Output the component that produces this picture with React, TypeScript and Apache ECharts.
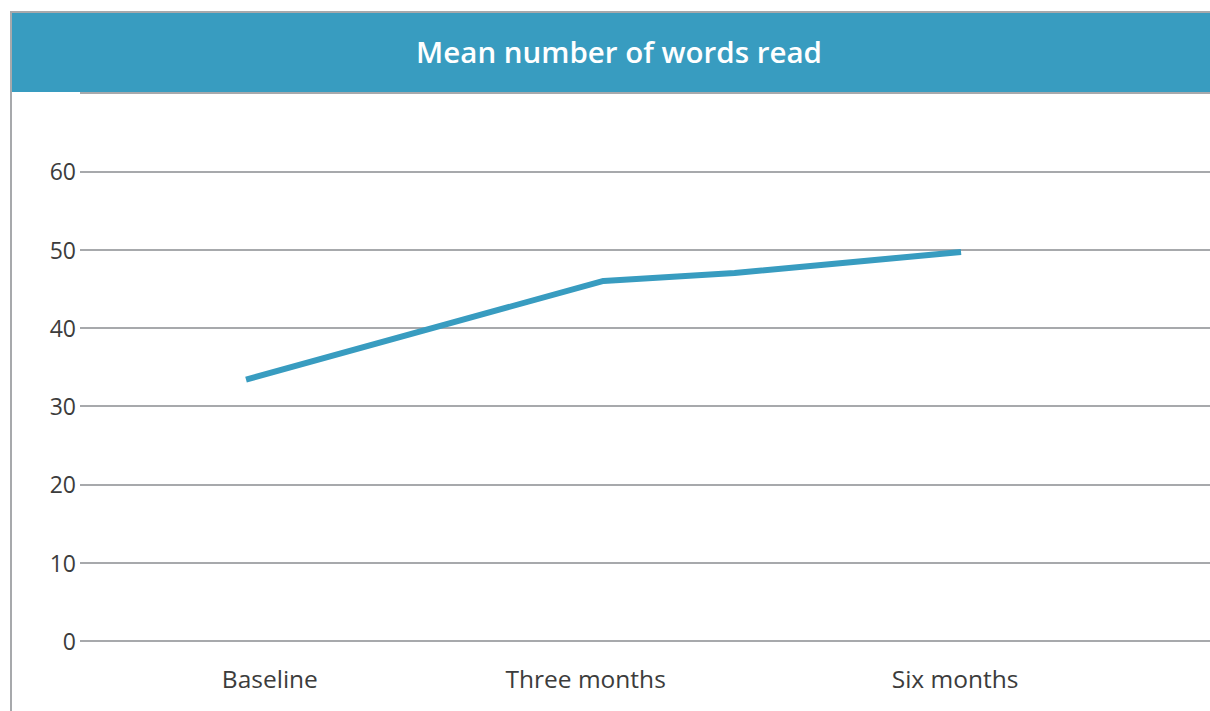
import React, { useEffect, useRef } from "react";
import * as echarts from "echarts";

const titleText = "Mean number of words read";
const monthsFromBaseline = [0, 3, 4.1, 6];
const meanWordsRead = [33.4, 46.0, 47.0, 49.7];
const xTickMonths = [0.2, 2.85, 5.95];
const xTickLabels = ["Baseline", "Three months", "Six months"];
const yTicks = [0, 10, 20, 30, 40, 50, 60, 70];

const BLUE = "#389cc0";
const GRAY = "#a7a9ac";
const TEXT = "#3c3c3c";
const FONT = "'Open Sans', Roboto, 'DejaVu Sans', sans-serif";

export default function App() {
  const ref = useRef<HTMLDivElement>(null);
  useEffect(() => {
    if (!ref.current) return;
    const chart = echarts.init(ref.current, null, { renderer: "svg" });
    chart.setOption({
      animation: false,
      backgroundColor: "#ffffff",
      grid: { left: 80, right: 0, top: 93, bottom: 70, containLabel: false },
      xAxis: {
        type: "value",
        min: -1.393,
        max: 8.089,
        axisLine: { show: false },
        axisTick: { show: false },
        splitLine: { show: false },
        axisLabel: {
          customValues: xTickMonths,
          formatter: (v: number) => {
            const i = xTickMonths.findIndex((m) => Math.abs(m - v) < 1e-6);
            return i >= 0 ? xTickLabels[i] : "";
          },
          color: TEXT,
          fontSize: 24.5,
          fontFamily: FONT,
          margin: 25,
        },
      },
      yAxis: {
        type: "value",
        min: yTicks[0],
        max: yTicks[yTicks.length - 1],
        interval: 10,
        axisLine: { show: false },
        axisTick: { show: false },
        splitLine: { show: true, lineStyle: { color: GRAY, width: 2 } },
        axisLabel: {
          formatter: (v: number) => (v === 70 ? "" : String(v)),
          color: TEXT,
          fontSize: 23,
          fontFamily: FONT,
          margin: 4,
        },
      },
      series: [
        {
          type: "line",
          data: monthsFromBaseline.map((m, i) => [m, meanWordsRead[i]]),
          symbol: "none",
          lineStyle: { color: BLUE, width: 6, cap: "butt", join: "round" },
          z: 5,
        },
      ],
      graphic: [
        { type: "rect", shape: { x: 10, y: 11, width: 1200, height: 2 }, style: { fill: GRAY }, z: 100 },
        { type: "rect", shape: { x: 10, y: 13, width: 1200, height: 79 }, style: { fill: BLUE }, z: 100 },
        { type: "rect", shape: { x: 10, y: 11, width: 2, height: 700 }, style: { fill: GRAY }, z: 100 },
        {
          type: "text",
          x: 619,
          y: 51,
          style: {
            text: titleText,
            fill: "#ffffff",
            fontSize: 29.5,
            fontWeight: 600,
            fontFamily: FONT,
            align: "center",
            verticalAlign: "middle",
          },
          z: 101,
        },
      ],
    });
    return () => chart.dispose();
  }, []);
  return (
    <div
      ref={ref}
      style={{ position: "absolute", left: 0, top: 0, width: 1210, height: 711 }}
    />
  );
}
